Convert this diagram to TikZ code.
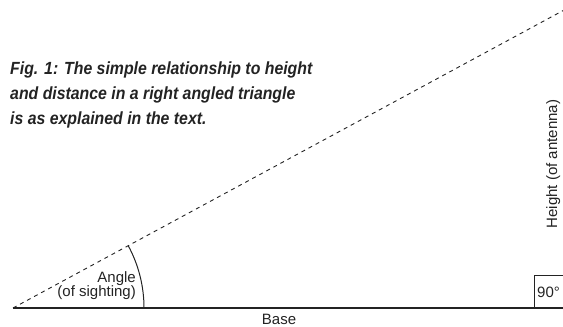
\documentclass[tikz,border=0pt]{standalone}
\usepackage{fontspec}
\newfontfamily\lblfont{Liberation Sans}
\newfontfamily\capfont[FakeStretch=0.9]{Liberation Sans}
\usepackage{xcolor}
\definecolor{inkdark}{RGB}{35,35,35}
\usepackage{tikz}
\usetikzlibrary{positioning,calc}
\tikzset{
  sideline/.style={draw=inkdark,line width=1.2pt},
  sightline/.style={draw=inkdark,line width=0.9pt,dash pattern=on 4pt off 4pt},
  lbl/.style={font=\lblfont\fontsize{15}{15}\selectfont,text=inkdark,inner sep=0pt},
  captxt/.style={font=\capfont\bfseries\itshape\fontsize{17.6}{25}\selectfont,
    text=inkdark,align=left,inner sep=0pt},
}

\begin{document}
\begin{tikzpicture}[x=1pt,y=1pt]
  \useasboundingbox (0,0) rectangle (563,327);
  \coordinate (O) at (13,19);
  \coordinate (B) at (563,19);
  \coordinate (T) at ($(O)+(28.4:626)$);
  % triangle sides
  \draw[sideline] (O) -- (B);
  \draw[sightline] (O) -- (T);
  \draw[sideline,line width=1pt] ($(O)+(131,0)$) arc[start angle=0,end angle=28.4,radius=131];
  % right angle box
  \draw[sideline,line width=1pt] (534,19) -- (534,51) -- (563,51);
  % labels
  \node (ang) [lbl,align=right,anchor=north east] at (136,56) {Angle\\[-0.5pt](of sighting)};
  \node (base) [lbl,anchor=base] at (279,2) {Base};
  \node (rt) [lbl,anchor=base west] at (537,29) {90°};
  \node (hgt) [lbl,rotate=90,anchor=base] at (557,163) {Height (of antenna)};
  \node (cap) [captxt,anchor=north west] at (10,265)
    {Fig. 1: The simple relationship to height\\
     and distance in a right angled triangle\\
     is as explained in the text.};
\end{tikzpicture}
\end{document}
